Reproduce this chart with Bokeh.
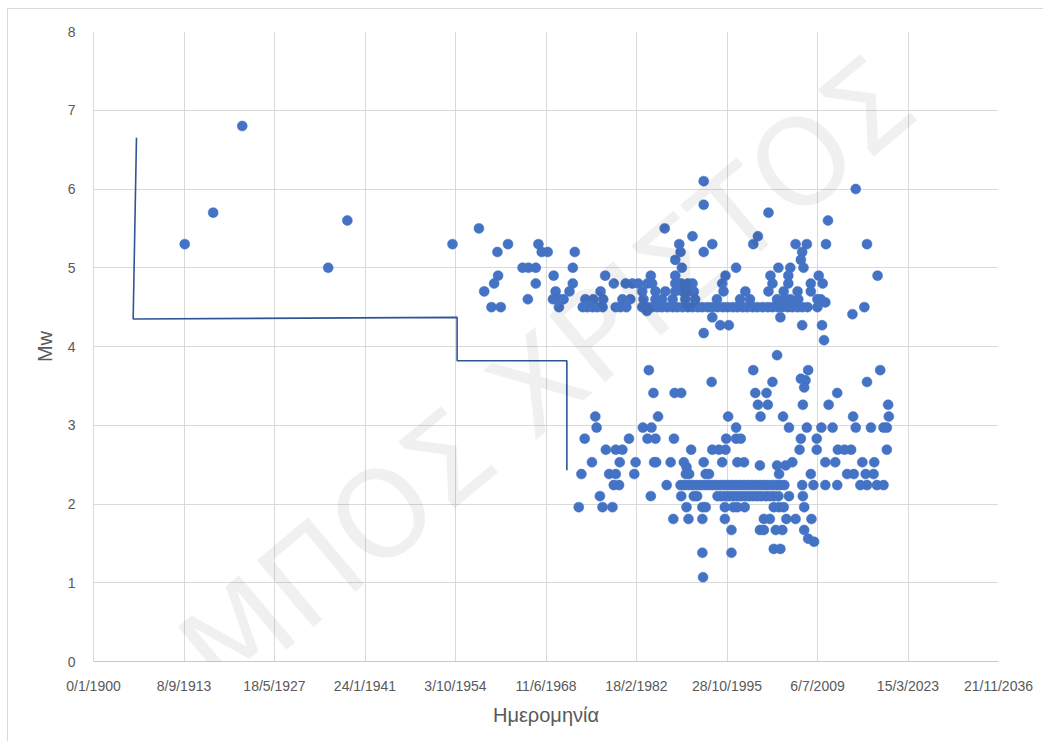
from bokeh.plotting import figure
from bokeh.models import FixedTicker, Range1d, Label
from bokeh.embed import file_html
from bokeh.resources import INLINE

# ---- axis ticks (Excel date serials) ----
tick_serials = [0, 5000, 10000, 15000, 20000, 25000, 30000, 35000, 40000, 45000, 50000]
tick_labels = ["0/1/1900", "8/9/1913", "18/5/1927", "24/1/1941", "3/10/1954", "11/6/1968",
               "18/2/1982", "28/10/1995", "6/7/2009", "15/3/2023", "21/11/2036"]
y_ticks = [0, 1, 2, 3, 4, 5, 6, 7, 8]

# ---- early / large events (decimal year, Mw) ----
early_year = [1913.8, 1918.1, 1922.5, 1935.5, 1938.4, 1954.3, 1958.3, 1961.1, 1962.7, 1967.3,
              1967.8, 1968.7, 1972.8, 1964.9, 1965.8, 1966.9, 1972.5, 1961.2, 1960.6, 1959.1,
              1960.2, 1961.6, 1966.9, 1965.7, 1969.6, 1969.9, 1969.5, 1970.5, 1971.1, 1970.4,
              1972.5, 1972.0]
early_mw = [5.3, 5.7, 6.8, 5.0, 5.6, 5.3, 5.5, 5.2, 5.3, 5.3,
            5.2, 5.2, 5.2, 5.0, 5.0, 5.0, 5.0, 4.9, 4.8, 4.7,
            4.5, 4.5, 4.8, 4.6, 4.9, 4.7, 4.6, 4.6, 4.6, 4.5,
            4.8, 4.7]

big_year = [1992.3, 1992.3, 1986.4, 1990.6, 1993.6, 1992.3, 1988.6, 1988.8, 1988.0, 1989.0,
            1997.2, 2015.3, 2002.1, 2011.1, 2000.5, 1999.8, 2006.2, 2007.9, 2010.8, 2017.0,
            2007.2, 2007.0, 2003.6, 2005.4, 2007.4]
big_mw = [6.1, 5.8, 5.5, 5.4, 5.3, 5.2, 5.3, 5.2, 5.1, 5.0,
          5.0, 6.0, 5.7, 5.6, 5.4, 5.3, 5.3, 5.3, 5.3, 5.3,
          5.2, 5.1, 5.0, 5.0, 5.0]

misc_year = [1983.7, 1993.6, 1994.8, 1996.1, 1992.3, 2003.9, 2007.2, 2010.2, 2010.5, 2014.8,
             2010.7, 2007.0, 2007.7, 2007.5, 1989.7, 2008.1, 2009.0]
misc_mw = [4.45, 4.37, 4.27, 4.27, 4.17, 4.37, 4.27, 4.27, 4.08, 4.41,
           4.56, 3.59, 3.57, 3.48, 2.47, 1.56, 1.52]

# ---- events by magnitude level (decimal years) ----
mw_4_9 = [1977.4, 1984.3, 1988.0, 1995.6, 2002.4, 2005.1, 2009.7, 2018.6]
mw_4_8 = [1978.7, 1980.5, 1981.5, 1982.4, 1983.8, 1984.5, 1988.0, 1988.9, 1989.9, 1990.6,
          1995.1, 2002.7, 2005.1, 2008.5, 2010.3]
mw_4_7 = [1976.7, 1983.0, 1985.0, 1986.5, 1988.0, 1989.1, 1990.0, 1990.8, 1995.3, 1998.6,
          2002.1, 2004.4, 2006.5, 2008.5]
mw_4_6 = [1974.4, 1975.6, 1977.1, 1980.0, 1981.2, 1983.2, 1985.0, 1986.0, 1987.6, 1989.5,
          1991.0, 1994.3, 1997.8, 1999.3, 2003.4, 2004.6, 2005.4, 2006.6, 2009.5, 2010.0]
mw_4_5 = [1974.0, 1974.7, 1975.5, 1976.2, 1977.0, 1979.0, 1979.7, 1980.6, 1983.0, 1983.8,
          1984.5, 1985.3, 1986.0, 1986.8, 1987.6, 1988.3, 1989.1, 1989.9, 1990.6, 1991.4,
          1992.1, 1992.9, 1993.6, 1994.4, 1995.2, 1995.9, 1996.7, 1997.4, 1998.2, 1998.9,
          1999.7, 2000.4, 2001.2, 2002.0, 2002.7, 2003.5, 2004.2, 2005.0, 2005.7, 2006.5,
          2007.2, 2008.0, 2009.5, 2016.6]

mw_3_89 = [2003.4]
mw_3_70 = [1984.0, 1999.8, 2008.1, 2019.0]
mw_3_55 = [1993.5, 2002.7, 2017.0]
mw_3_41 = [1984.7, 1987.9, 1988.9, 2000.1, 2001.8, 2012.5]
mw_3_26 = [2000.5, 2002.0, 2007.3, 2011.2, 2020.2]
mw_3_11 = [1975.9, 1985.4, 1996.0, 2000.9, 2004.3, 2014.9, 2020.3]
mw_2_97 = [1976.1, 1983.1, 1984.4, 1997.2, 2005.2, 2007.9, 2010.1, 2011.8, 2015.3, 2017.6,
           2019.5, 2020.0]
mw_2_83 = [1974.3, 1981.0, 1983.8, 1985.0, 1987.8, 1995.7, 1997.2, 1997.9, 2007.0, 2009.4]
mw_2_69 = [1977.5, 1979.0, 1980.0, 1990.4, 1993.6, 1994.6, 1995.6, 2006.8, 2009.4, 2012.6,
           2013.6, 2014.6, 2020.0]
mw_2_53 = [1975.4, 1979.6, 1982.0, 1984.8, 1985.1, 1987.3, 1989.3, 1992.3, 1995.1, 1997.4,
           1998.4, 2005.7, 2010.7, 2012.2, 2016.3, 2018.1]
mw_2_49 = [2000.8, 2003.4, 2004.7]
mw_2_38 = [1973.8, 1978.0, 1979.0, 1981.8, 1989.6, 1990.1, 1992.6, 1993.1, 2003.7, 2008.5,
           2014.0, 2015.0, 2016.8, 2018.0]
mw_2_24 = [1978.7, 1979.5, 1986.7, 1988.8, 1989.4, 1990.0, 1990.6, 1991.2, 1991.8, 1992.4,
           1993.0, 1993.6, 1994.2, 1994.8, 1995.4, 1996.0, 1996.6, 1997.2, 1997.8, 1998.4,
           1999.0, 1999.6, 2000.2, 2000.8, 2001.4, 2002.0, 2002.7, 2003.3, 2003.9, 2004.5,
           2007.2, 2008.9, 2010.7, 2012.5, 2016.0, 2017.0, 2018.5, 2019.5]
mw_2_10 = [1976.6, 1984.3, 1988.9, 1990.8, 1991.3, 1994.4, 1995.0, 1995.6, 1996.2, 1996.8,
           1997.4, 1998.0, 1998.6, 1999.2, 1999.8, 2000.4, 2001.0, 2001.7, 2002.3, 2002.9,
           2003.6, 2005.2, 2007.3]
mw_1_96 = [1973.4, 1977.0, 1978.5, 1989.7, 1992.1, 1992.6, 1995.5, 1996.8, 1997.4, 1998.5,
           2002.9, 2003.7, 2004.4, 2007.5]
mw_1_81 = [1987.7, 1990.0, 1992.1, 1995.5, 2001.4, 2002.3, 2004.8, 2006.2, 2008.6]
mw_1_67 = [1996.5, 2000.8, 2001.4, 2003.2, 2004.2, 2007.5]
mw_1_43 = [2002.9, 2003.9]
mw_1_38 = [1992.1, 1996.5]
mw_1_07 = [1992.2]

level_rows = [(4.9, mw_4_9), (4.8, mw_4_8), (4.7, mw_4_7), (4.6, mw_4_6), (4.5, mw_4_5),
              (3.89, mw_3_89), (3.70, mw_3_70), (3.55, mw_3_55), (3.41, mw_3_41),
              (3.26, mw_3_26), (3.11, mw_3_11), (2.97, mw_2_97), (2.83, mw_2_83),
              (2.69, mw_2_69), (2.53, mw_2_53), (2.49, mw_2_49), (2.38, mw_2_38),
              (2.24, mw_2_24), (2.10, mw_2_10), (1.96, mw_1_96), (1.81, mw_1_81),
              (1.67, mw_1_67), (1.43, mw_1_43), (1.38, mw_1_38), (1.07, mw_1_07)]

# ---- completeness magnitude step line ----
mc_year = [1906.5, 1906.0, 1955.0, 1955.0, 1971.6, 1971.6]
mc_value = [6.65, 4.35, 4.37, 3.82, 3.82, 2.43]

# visible part of the diagonal watermark
watermark_text = "ΜΠΟΣ ΧΡΙΣΤΟΣ"


def to_serial(years):
    return [(y - 1900.0) * 365.25 for y in years]


all_year = list(early_year) + list(big_year) + list(misc_year)
all_mw = list(early_mw) + list(big_mw) + list(misc_mw)
for lvl, yrs in level_rows:
    all_year += yrs
    all_mw += [lvl] * len(yrs)

p = figure(frame_width=905, frame_height=630,
           min_border_left=85, min_border_right=45, min_border_top=22, min_border_bottom=80,
           x_range=Range1d(0, 50000), y_range=Range1d(0, 8),
           output_backend="svg", toolbar_location=None,
           background_fill_color="white", border_fill_color="white")
p.styles = {"margin-left": "7px", "margin-top": "8px",
            "border-left": "1px solid #D9D9D9", "border-top": "1px solid #D9D9D9"}
p.outline_line_color = None

grey = "#595959"
tick_font = "Liberation Sans"

p.xaxis.ticker = FixedTicker(ticks=tick_serials)
p.xaxis.major_label_overrides = {t: l for t, l in zip(tick_serials, tick_labels)}
p.yaxis.ticker = FixedTicker(ticks=y_ticks)
p.xgrid.ticker = FixedTicker(ticks=tick_serials)
p.ygrid.ticker = FixedTicker(ticks=y_ticks)
for g in (p.xgrid, p.ygrid):
    g.grid_line_color = "#D9D9D9"
    g.grid_line_width = 1

for ax in (p.xaxis, p.yaxis):
    ax.major_tick_line_color = None
    ax.minor_tick_line_color = None
    ax.major_label_text_color = grey
    ax.major_label_text_font = tick_font
    ax.major_label_text_font_size = "14px"
    ax.axis_label_text_color = grey
    ax.axis_label_text_font = tick_font
    ax.axis_label_text_font_size = "20px"
    ax.axis_label_text_font_style = "normal"

p.xaxis.axis_line_color = "#C8C8C8"
p.yaxis.axis_line_color = "#D9D9D9"
p.xaxis.major_label_standoff = 10
p.yaxis.major_label_standoff = 12
p.xaxis.axis_label = "Ημερομηνία"
p.yaxis.axis_label = "Mw"
p.xaxis.axis_label_standoff = 7
p.yaxis.axis_label_standoff = 9

wm = Label(x=803, y=578, x_units="screen", y_units="screen", text=watermark_text,
           angle=40, angle_units="deg", text_align="right", text_baseline="alphabetic",
           text_font="DejaVu Sans", text_font_size="120px", text_color="#000000", text_alpha=0.06)
p.add_layout(wm)

p.line(to_serial(mc_year), mc_value, line_color="#2F5597", line_width=1.6)
p.scatter(to_serial(all_year), all_mw, size=10, marker="circle",
          fill_color="#4472C4", line_color="#4472C4", line_width=0.5)

open("out.html", "w").write(file_html(p, INLINE))
